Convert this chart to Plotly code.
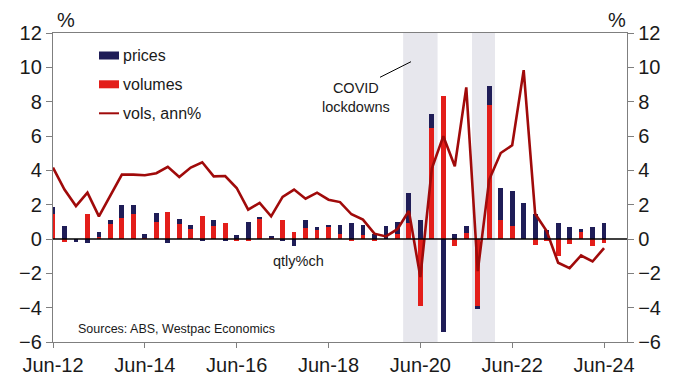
import plotly.graph_objects as go

# ---- data (quarterly, Jun-12 .. Jun-24) ----
tick_labels = ["Jun-12", "Jun-14", "Jun-16", "Jun-18", "Jun-20", "Jun-22", "Jun-24"]
prices = [0.43, 0.78, -0.10, -0.25, 0.33, 0.23, 0.78, 0.54, 0.23, 0.49,
          -0.25, 0.29, 0.23, -0.14, 0.33, -0.14, 0.25, 1.00, 0.08, 0.10,
          -0.10, -0.43, 0.47, 0.19, 0.14, 0.51, 0.93, 0.54, 0.29, 0.78,
          0.68, 1.75, 1.10, 0.80, -5.41, 0.29, 0.45, -0.15, 1.11, 1.87,
          2.00, 2.10, 1.46, 0.54, 0.91, 0.68, 0.19, 0.70, 0.95]
volumes = [1.46, -0.19, -0.05, 1.46, 0.10, 0.88, 1.23, 1.46, 0.06, 1.01,
           1.58, 0.90, 0.56, 1.34, 0.76, 0.93, -0.06, -0.08, 1.17, 0.10,
           1.11, 0.43, 0.64, 0.53, 0.68, 0.29, -0.12, 0.25, -0.14, 0.00,
           0.31, 0.95, -3.90, 6.48, 8.31, -0.39, 0.33, -3.90, 7.78, 1.11,
           0.78, 0.00, -0.35, -0.10, -1.01, -0.29, 0.39, -0.41, -0.25]
vols_ann = [4.16, 2.88, 1.92, 2.70, 1.32, 2.50, 3.75, 3.75, 3.71, 3.83,
            4.20, 3.61, 4.16, 4.47, 3.65, 3.67, 2.97, 1.71, 2.10, 1.32,
            2.45, 2.88, 2.35, 2.70, 2.29, 2.15, 1.44, 1.13, 0.31, 0.15,
            0.57, 1.63, -2.22, 4.10, 5.99, 4.24, 8.83, -1.87, 3.46, 5.01,
            5.46, 9.84, 1.47, 0.46, -1.38, -1.70, -0.96, -1.31, -0.53]
# lockdown periods (quarter index spans)
lockdowns = [(30.5, 33.5), (36.5, 38.5)]

x = list(range(len(prices)))
tick_vals = [i * 8 for i in range(len(tick_labels))]

NAVY = "#1f1d57"
RED = "#e31e1a"
LINE = "#a00a0a"
SHADE = "#e7e7ed"
AXIS = "#7f7f7f"
FONT = "Liberation Sans, Arial, sans-serif"

fig = go.Figure()
fig.add_trace(go.Bar(x=x, y=volumes, name="volumes", marker_color=RED,
                     marker_line_width=0, width=0.42, showlegend=False))
fig.add_trace(go.Bar(x=x, y=prices, name="prices", marker_color=NAVY,
                     marker_line_width=0, width=0.42, showlegend=False))
fig.add_trace(go.Scatter(x=x, y=vols_ann, name="vols, ann%", mode="lines",
                         line=dict(color=LINE, width=2.6), showlegend=False))
# invisible trace to activate right axis
fig.add_trace(go.Scatter(x=[0], y=[0], yaxis="y2", mode="markers",
                         marker=dict(opacity=0), showlegend=False, hoverinfo="skip"))

shapes = []
for a, b in lockdowns:
    shapes.append(dict(type="rect", xref="x", yref="paper", x0=a, x1=b, y0=0, y1=1,
                       fillcolor=SHADE, line_width=0, layer="below"))

# plot area pixel geometry helpers for legend/annotations
L, R, T, B = 53, 627, 33, 342
def px(xp):
    return (xp - L) / (R - L)
def py(yp):
    return (B - yp) / (B - T)

# manual legend
shapes.append(dict(type="rect", xref="paper", yref="paper", x0=px(99), x1=px(119),
                   y0=py(59.5), y1=py(51.5), fillcolor=NAVY, line_width=0))
shapes.append(dict(type="rect", xref="paper", yref="paper", x0=px(99), x1=px(119),
                   y0=py(88.3), y1=py(80.3), fillcolor=RED, line_width=0))
shapes.append(dict(type="line", xref="paper", yref="paper", x0=px(99), x1=px(119),
                   y0=py(113.3), y1=py(113.3), line=dict(color=LINE, width=2)))
# COVID pointer line
shapes.append(dict(type="line", xref="paper", yref="paper", x0=px(380), x1=px(411),
                   y0=py(77.3), y1=py(61.7), line=dict(color="#000000", width=1)))

annotations = [
    dict(text="prices", x=px(121), y=py(55.5)),
    dict(text="volumes", x=px(121), y=py(84.3)),
    dict(text="vols, ann%", x=px(121), y=py(113.3)),
]
for a in annotations:
    a.update(xref="paper", yref="paper", xanchor="left", yanchor="middle",
             showarrow=False, font=dict(size=16, color="#1a1a1a", family=FONT))
annotations += [
    dict(text="COVID<br>lockdowns", x=px(356), y=py(97), xref="paper", yref="paper",
         xanchor="center", yanchor="middle", showarrow=False, align="center",
         font=dict(size=14.5, color="#1a1a1a", family=FONT)),
    dict(text="qtly%ch", x=px(298), y=py(261), xref="paper", yref="paper",
         xanchor="center", yanchor="middle", showarrow=False,
         font=dict(size=14.5, color="#1a1a1a", family=FONT)),
    dict(text="Sources: ABS, Westpac Economics", x=px(76), y=py(329), xref="paper",
         yref="paper", xanchor="left", yanchor="middle", showarrow=False,
         font=dict(size=12.5, color="#1a1a1a", family=FONT)),
    dict(text="%", x=px(66), y=py(20), xref="paper", yref="paper", xanchor="center",
         yanchor="middle", showarrow=False, font=dict(size=20, color="#1a1a1a", family=FONT)),
    dict(text="%", x=px(617), y=py(20), xref="paper", yref="paper", xanchor="center",
         yanchor="middle", showarrow=False, font=dict(size=20, color="#1a1a1a", family=FONT)),
]

yax = dict(range=[-6, 12], dtick=2, tick0=0, showgrid=False, zeroline=False,
           showline=True, linecolor=AXIS, linewidth=1.3, ticks="outside",
           ticklen=6, tickcolor=AXIS, tickwidth=1.3, automargin=False,
           tickfont=dict(size=20, color="#1a1a1a", family=FONT), fixedrange=True)

fig.update_layout(
    width=683, height=376,
    margin=dict(l=L, r=683 - R, t=T, b=376 - B, autoexpand=False),
    paper_bgcolor="white", plot_bgcolor="white",
    barmode="relative", bargap=0,
    shapes=shapes, annotations=annotations,
    xaxis=dict(range=[0, 50], tickvals=tick_vals, ticktext=tick_labels,
               showgrid=False, zeroline=False, showline=True, mirror=True,
               linecolor=AXIS, linewidth=1.3, ticks="outside", ticklen=5,
               tickcolor=AXIS, tickwidth=1.3, automargin=False,
               tickfont=dict(size=20, color="#1a1a1a", family=FONT)),
    yaxis=dict(**yax, side="left"),
    yaxis2=dict(**yax, side="right", overlaying="y"),
)
# zero line drawn above bars
fig.add_shape(type="line", xref="paper", yref="y", x0=0, x1=1, y0=0, y1=0,
              line=dict(color="#000000", width=1.5), layer="above")

fig.write_html("out.html")
